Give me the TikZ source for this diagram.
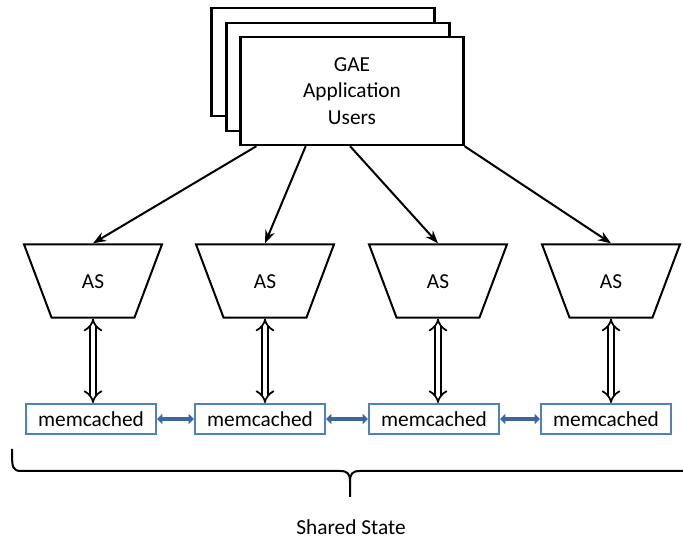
\documentclass[tikz,border=0pt]{standalone}
\usepackage{fontspec}
\setmainfont{Carlito}
\usetikzlibrary{arrows.meta,shapes.geometric,calc}
\definecolor{memblue}{RGB}{79,129,189}
\definecolor{memarrow}{RGB}{62,102,158}

\begin{document}
\begin{tikzpicture}[x=0.75pt,y=-0.75pt,>=Stealth,font=\fontsize{16}{19.9}\selectfont,
  userbox/.style={draw,line width=1.8pt,fill=white,minimum width=167pt,minimum height=81pt,align=center},
  server/.style={draw,line width=1.5pt,trapezium,shape border rotate=180,trapezium stretches body,
    trapezium left angle=69.4,trapezium right angle=69.4,text height=11pt,text depth=0pt,
    inner ysep=22pt,minimum width=103.5pt},
  cache/.style={draw=memblue,line width=1.5pt,minimum width=97.5pt,minimum height=22.5pt,inner sep=0pt},
  link/.style={double,double distance=3.5pt,line width=1.3pt,{Implies[length=5pt]}-{Implies[length=5pt]}},
  share/.style={draw=memarrow,line width=3pt,{Triangle[length=4pt,width=7.5pt]}-{Triangle[length=4pt,width=7.5pt]}}]
\useasboundingbox (0,0) rectangle (683,541);
% stack of users
\node[userbox] (users0) at (323,62) {};
\node[userbox] (users1) at (338,77) {};
\node[userbox] (users) at (352,91) {GAE\\Application\\Users};
% app servers
\node[server] (as1) at (93,281) {AS};
\node[server] (as2) at (265,281) {AS};
\node[server] (as3) at (438,281) {AS};
\node[server] (as4) at (611,281) {AS};
\draw[->,line width=1.5pt] (users.210.9) -- (as1.north);
\draw[->,line width=1.5pt] (users.230.2) -- (as2.north);
\draw[->,line width=1.5pt] (users.268) -- (as3.north);
\draw[->,line width=1.5pt] (users.south east) -- (as4.north);
% memcached row
\node[cache] (mc1) at (91,419) {memcached};
\node[cache] (mc2) at (260,419) {memcached};
\node[cache] (mc3) at (434,419) {memcached};
\node[cache] (mc4) at (606,419) {memcached};
\foreach \i in {1,...,4}
  \draw[link] (as\i.south) -- (as\i.south |- mc\i.north);
\draw[share] (mc1.east) -- (mc2.west);
\draw[share] (mc2.east) -- (mc3.west);
\draw[share] (mc3.east) -- (mc4.west);
% brace
\draw[line width=1.5pt] (12,449) .. controls (12,468) and (12,471) .. (22,471) -- (340,471)
  .. controls (348,471) and (350,474) .. (350,482) -- (350,497);
\draw[line width=1.5pt] (683,471) -- (360,471) .. controls (352,471) and (350,474) .. (350,482);
\node (shared) at (351,527) {Shared State};
\end{tikzpicture}
\end{document}
